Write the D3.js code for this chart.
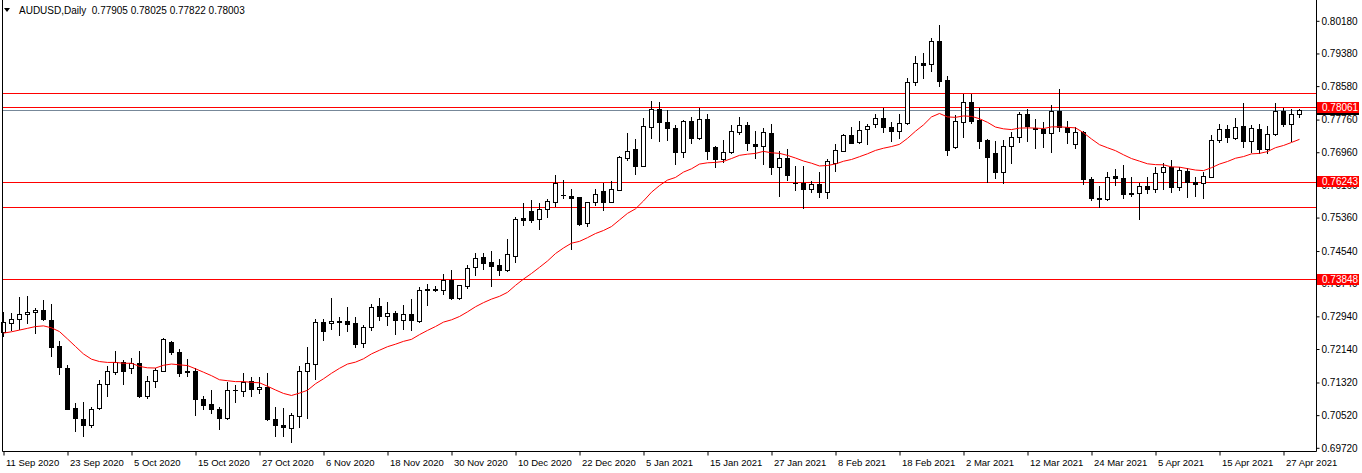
<!DOCTYPE html>
<html>
<head>
<meta charset="utf-8">
<script src="https://cdn.jsdelivr.net/npm/d3@7"></script>
<style>
  body { margin: 0; background: #fff; }
  svg { display: block; font-family: "Liberation Sans", Arial, sans-serif; }
</style>
</head>
<body>
<svg id="chart" width="1362" height="473"></svg>
<script>
// AUDUSD daily candles, 11 Sep 2020 .. 29 Apr 2021
const open = [
  0.7255, 0.7277, 0.7287, 0.7299, 0.7304, 0.7310, 0.7285, 0.7222, 0.7167, 0.7069,
  0.7042, 0.7027, 0.7069, 0.7128, 0.7157, 0.7183, 0.7167, 0.7179, 0.7098, 0.7135,
  0.7161, 0.7231, 0.7206, 0.7161, 0.7161, 0.7092, 0.7080, 0.7068, 0.7045, 0.7114,
  0.7112, 0.7136, 0.7116, 0.7122, 0.7043, 0.7028, 0.7020, 0.7051, 0.7159, 0.7177,
  0.7280, 0.7277, 0.7281, 0.7283, 0.7277, 0.7228, 0.7268, 0.7320, 0.7296, 0.7303,
  0.7284, 0.7299, 0.7283, 0.7361, 0.7362, 0.7359, 0.7383, 0.7339, 0.7369, 0.7416,
  0.7440, 0.7427, 0.7420, 0.7408, 0.7443, 0.7535, 0.7552, 0.7532, 0.7556, 0.7575,
  0.7592, 0.7589, 0.7586, 0.7522, 0.7574, 0.7601, 0.7575, 0.7604, 0.7683, 0.7704,
  0.7663, 0.7759, 0.7802, 0.7769, 0.7755, 0.7696, 0.7772, 0.7732, 0.7777, 0.7708,
  0.7680, 0.7696, 0.7746, 0.7763, 0.7716, 0.7712, 0.7744, 0.7661, 0.7681, 0.7620,
  0.7621, 0.7605, 0.7618, 0.7598, 0.7669, 0.7699, 0.7738, 0.7720, 0.7752, 0.7764,
  0.7779, 0.7757, 0.7749, 0.7767, 0.7869, 0.7914, 0.7912, 0.7968, 0.7873, 0.7708,
  0.7771, 0.7818, 0.7775, 0.7726, 0.7693, 0.7648, 0.7712, 0.7734, 0.7790, 0.7756,
  0.7753, 0.7742, 0.7797, 0.7757, 0.7716, 0.7746, 0.7630, 0.7585, 0.7581, 0.7638,
  0.7632, 0.7595, 0.7595, 0.7614, 0.7605, 0.7647, 0.7661, 0.7612, 0.7651, 0.7622,
  0.7620, 0.7636, 0.7726, 0.7752, 0.7730, 0.7760, 0.7724, 0.7753, 0.7704, 0.7740,
  0.7798, 0.7764, 0.77905
];
const high = [
  0.7304, 0.7302, 0.7341, 0.7344, 0.7314, 0.7334, 0.7325, 0.7234, 0.7175, 0.7081,
  0.7085, 0.7073, 0.7137, 0.7173, 0.7208, 0.7187, 0.7192, 0.7208, 0.7149, 0.7167,
  0.7241, 0.7234, 0.7214, 0.7189, 0.7167, 0.7098, 0.7114, 0.7071, 0.7134, 0.7125,
  0.7156, 0.7145, 0.7145, 0.7156, 0.7073, 0.7069, 0.7057, 0.7173, 0.7220, 0.7287,
  0.7287, 0.7340, 0.7293, 0.7318, 0.7293, 0.7273, 0.7325, 0.7340, 0.7330, 0.7307,
  0.7322, 0.7337, 0.7365, 0.7374, 0.7369, 0.7397, 0.7408, 0.7372, 0.7420, 0.7449,
  0.7449, 0.7454, 0.7434, 0.7484, 0.7538, 0.7571, 0.7579, 0.7571, 0.7581, 0.7640,
  0.7628, 0.7606, 0.7587, 0.7575, 0.7606, 0.7621, 0.7626, 0.7687, 0.7744, 0.7728,
  0.7779, 0.7822, 0.7820, 0.7799, 0.7763, 0.7775, 0.7783, 0.7805, 0.7790, 0.7712,
  0.7726, 0.7763, 0.7782, 0.7769, 0.7748, 0.7755, 0.7765, 0.7699, 0.7703, 0.7662,
  0.7662, 0.7626, 0.7647, 0.7680, 0.7716, 0.7741, 0.7759, 0.7773, 0.7765, 0.7790,
  0.7804, 0.7771, 0.7790, 0.7879, 0.7932, 0.7938, 0.7975, 0.8008, 0.7883, 0.7787,
  0.7839, 0.7839, 0.7804, 0.7728, 0.7724, 0.7726, 0.7745, 0.7795, 0.7801, 0.7777,
  0.7769, 0.7812, 0.7850, 0.7773, 0.7759, 0.7748, 0.7635, 0.7613, 0.7647, 0.7655,
  0.7665, 0.7636, 0.7620, 0.7636, 0.7659, 0.7669, 0.7677, 0.7661, 0.7657, 0.7636,
  0.7648, 0.7738, 0.7764, 0.7763, 0.7781, 0.7817, 0.7763, 0.7764, 0.7761, 0.7816,
  0.7804, 0.7801, 0.78025
];
const low = [
  0.7246, 0.7261, 0.7263, 0.7277, 0.7253, 0.7285, 0.7196, 0.7152, 0.7067, 0.7012,
  0.7002, 0.7023, 0.7067, 0.7098, 0.7152, 0.7128, 0.7155, 0.7096, 0.7094, 0.7121,
  0.7159, 0.7202, 0.7147, 0.7148, 0.7053, 0.7068, 0.7057, 0.7018, 0.7043, 0.7083,
  0.7098, 0.7100, 0.7107, 0.7041, 0.7000, 0.7000, 0.6987, 0.7024, 0.7045, 0.7141,
  0.7236, 0.7263, 0.7249, 0.7257, 0.7220, 0.7220, 0.7261, 0.7285, 0.7273, 0.7251,
  0.7263, 0.7261, 0.7281, 0.7322, 0.7355, 0.7349, 0.7337, 0.7337, 0.7364, 0.7396,
  0.7410, 0.7369, 0.7396, 0.7405, 0.7426, 0.7518, 0.7524, 0.7507, 0.7538, 0.7565,
  0.7583, 0.7459, 0.7518, 0.7516, 0.7567, 0.7555, 0.7574, 0.7603, 0.7677, 0.7642,
  0.7662, 0.7732, 0.7724, 0.7727, 0.7667, 0.7685, 0.7719, 0.7728, 0.7680, 0.7659,
  0.7673, 0.7693, 0.7741, 0.7702, 0.7683, 0.7667, 0.7642, 0.7590, 0.7628, 0.7604,
  0.7560, 0.7599, 0.7587, 0.7583, 0.7650, 0.7698, 0.7718, 0.7718, 0.7716, 0.7759,
  0.7746, 0.7724, 0.7730, 0.7766, 0.7861, 0.7879, 0.7895, 0.7858, 0.7689, 0.7706,
  0.7734, 0.7767, 0.7707, 0.7624, 0.7634, 0.7620, 0.7669, 0.7722, 0.7724, 0.7706,
  0.7710, 0.7697, 0.7749, 0.7718, 0.7706, 0.7618, 0.7579, 0.7561, 0.7579, 0.7616,
  0.7583, 0.7589, 0.7532, 0.7596, 0.7599, 0.7605, 0.7599, 0.7604, 0.7587, 0.7589,
  0.7585, 0.7635, 0.7722, 0.7722, 0.7728, 0.7708, 0.7697, 0.7693, 0.7695, 0.7738,
  0.7760, 0.7724, 0.77822
];
const close = [
  0.7281, 0.7287, 0.7300, 0.7305, 0.7310, 0.7287, 0.7220, 0.7169, 0.7068, 0.7045,
  0.7027, 0.7068, 0.7128, 0.7161, 0.7182, 0.7159, 0.7179, 0.7098, 0.7135, 0.7163,
  0.7238, 0.7206, 0.7156, 0.7157, 0.7091, 0.7077, 0.7068, 0.7044, 0.7114, 0.7113,
  0.7134, 0.7116, 0.7121, 0.7042, 0.7027, 0.7024, 0.7053, 0.7161, 0.7179, 0.7280,
  0.7257, 0.7283, 0.7282, 0.7276, 0.7227, 0.7268, 0.7316, 0.7296, 0.7302, 0.7284,
  0.7299, 0.7284, 0.7359, 0.7358, 0.7359, 0.7383, 0.7339, 0.7371, 0.7413, 0.7436,
  0.7424, 0.7418, 0.7408, 0.7446, 0.7532, 0.7531, 0.7530, 0.7557, 0.7577, 0.7621,
  0.7591, 0.7585, 0.7520, 0.7573, 0.7593, 0.7575, 0.7606, 0.7684, 0.7699, 0.7663,
  0.7760, 0.7802, 0.7769, 0.7755, 0.7696, 0.7772, 0.7732, 0.7777, 0.7700, 0.7680,
  0.7696, 0.7748, 0.7763, 0.7718, 0.7712, 0.7745, 0.7661, 0.7681, 0.7640, 0.7621,
  0.7605, 0.7618, 0.7598, 0.7675, 0.7702, 0.7738, 0.7719, 0.7750, 0.7760, 0.7779,
  0.7757, 0.7749, 0.7767, 0.7869, 0.7914, 0.7910, 0.7968, 0.7871, 0.7702, 0.7772,
  0.7818, 0.7773, 0.7724, 0.7685, 0.7648, 0.7712, 0.7734, 0.7790, 0.7760, 0.7752,
  0.7742, 0.7797, 0.7759, 0.7745, 0.7745, 0.7630, 0.7583, 0.7582, 0.7635, 0.7632,
  0.7594, 0.7593, 0.7614, 0.7606, 0.7646, 0.7661, 0.7612, 0.7653, 0.7622, 0.7619,
  0.7638, 0.7726, 0.7752, 0.7733, 0.7757, 0.7724, 0.7755, 0.7704, 0.7740, 0.7798,
  0.7764, 0.7790, 0.78003
];

// date labels sit under every 8th bar
const dateLabels = [
  '11 Sep 2020', '23 Sep 2020', '5 Oct 2020', '15 Oct 2020', '27 Oct 2020', '6 Nov 2020',
  '18 Nov 2020', '30 Nov 2020', '10 Dec 2020', '22 Dec 2020', '5 Jan 2021', '15 Jan 2021',
  '27 Jan 2021', '8 Feb 2021', '18 Feb 2021', '2 Mar 2021', '12 Mar 2021', '24 Mar 2021',
  '5 Apr 2021', '15 Apr 2021', '27 Apr 2021'
];
const priceTicks = [
  0.80180, 0.79380, 0.78580, 0.77760, 0.76960, 0.76160, 0.75360,
  0.74540, 0.73740, 0.72940, 0.72140, 0.71320, 0.70520, 0.69720
];
const levelLines = [0.78403, 0.78061, 0.76243, 0.75612, 0.73848];
const labelledLevels = [0.78061, 0.76243, 0.73848];
const bidPrice = 0.78003;
const maPeriod = 20;
const maStart = 0.7253; // MA value at the first visible bar

const W = 1362, H = 473;
const plotLeft = 2, plotRight = 1316, plotBottom = 451;
const fmt = d3.format('.5f');

const svg = d3.select('#chart');

const x = d3.scaleLinear().domain([0, open.length - 1]).range([3.5, 3.5 + 8 * (open.length - 1)]);
const y = d3.scaleLinear().domain([0.69720, 0.80180]).range([447.8, 20.8]);
const py = v => Math.round(y(v)) + 0.5;

// horizontal levels
svg.append('g')
  .selectAll('line')
  .data(levelLines)
  .enter()
  .append('line')
  .attr('x1', plotLeft)
  .attr('x2', plotRight)
  .attr('y1', d => py(d))
  .attr('y2', d => py(d))
  .style('stroke', '#ff0000')
  .style('stroke-width', 1);

svg.append('line')
  .attr('x1', plotLeft)
  .attr('x2', plotRight)
  .attr('y1', py(bidPrice))
  .attr('y2', py(bidPrice))
  .style('stroke', '#778899')
  .style('stroke-width', 1);

// candles
const bars = d3.range(open.length);
const candles = svg.append('g');

candles
  .selectAll('line.wick')
  .data(bars)
  .enter()
  .append('line')
  .attr('class', 'wick')
  .attr('x1', i => x(i))
  .attr('x2', i => x(i))
  .attr('y1', i => Math.round(y(high[i])))
  .attr('y2', i => Math.round(y(low[i])) + 1)
  .style('stroke', '#000')
  .style('stroke-width', 1);

candles
  .selectAll('rect.body')
  .data(bars.filter(i => Math.round(y(Math.min(open[i], close[i]))) - Math.round(y(Math.max(open[i], close[i]))) >= 1))
  .enter()
  .append('rect')
  .attr('class', 'body')
  .attr('x', i => x(i) - 2)
  .attr('y', i => Math.round(y(Math.max(open[i], close[i]))) + 0.5)
  .attr('width', 4)
  .attr('height', i => Math.round(y(Math.min(open[i], close[i]))) - Math.round(y(Math.max(open[i], close[i]))))
  .style('fill', i => (close[i] >= open[i] ? '#fff' : '#000'))
  .style('stroke', '#000')
  .style('stroke-width', 1);

candles
  .selectAll('line.doji')
  .data(bars.filter(i => Math.round(y(Math.min(open[i], close[i]))) - Math.round(y(Math.max(open[i], close[i]))) < 1))
  .enter()
  .append('line')
  .attr('class', 'doji')
  .attr('x1', i => x(i) - 2.5)
  .attr('x2', i => x(i) + 2.5)
  .attr('y1', i => py(close[i]))
  .attr('y2', i => py(close[i]))
  .style('stroke', '#000')
  .style('stroke-width', 1);

// exponential moving average of the closes
const k = 2 / (maPeriod + 1);
const ma = [];
close.forEach((c, i) => ma.push(i === 0 ? maStart : ma[i - 1] + k * (c - ma[i - 1])));

svg.append('path')
  .datum(ma)
  .attr('d', d3.line().x((d, i) => x(i)).y(d => y(d)))
  .style('fill', 'none')
  .style('stroke', '#ff0000')
  .style('stroke-width', 1);

// frame
svg.append('path')
  .attr('d', `M${plotLeft + 0.5},0V${plotBottom + 0.5}H${plotRight + 0.5}V0`)
  .style('fill', 'none')
  .style('stroke', '#000')
  .style('stroke-width', 1);

// price axis
const yAxis = d3.axisRight(y)
  .tickValues(priceTicks)
  .tickSize(3)
  .tickSizeOuter(0)
  .tickFormat(fmt);

const yAxisG = svg.append('g')
  .attr('transform', `translate(${plotRight + 0.5},0)`)
  .call(yAxis);
yAxisG.select('.domain').remove();
yAxisG.selectAll('.tick line').attr('stroke', '#000');
yAxisG.selectAll('.tick text')
  .attr('x', 5)
  .style('font-family', '"Liberation Sans", Arial, sans-serif')
  .style('font-size', '10px')
  .style('fill', '#000');

// date axis
const xAxis = d3.axisBottom(x)
  .tickValues(dateLabels.map((d, i) => i * 8))
  .tickSize(4)
  .tickSizeOuter(0)
  .tickFormat((d, i) => dateLabels[i]);

const xAxisG = svg.append('g')
  .attr('transform', `translate(0,${plotBottom + 0.5})`)
  .call(xAxis);
xAxisG.select('.domain').remove();
xAxisG.selectAll('.tick line').attr('stroke', '#000');
xAxisG.selectAll('.tick text')
  .attr('text-anchor', 'start')
  .attr('x', 2)
  .attr('y', 8)
  .style('font-family', '"Liberation Sans", Arial, sans-serif')
  .style('font-size', '9.5px')
  .style('fill', '#000');

// price tags on the axis
function priceTag(value, fill) {
  const cy = y(value);
  const g = svg.append('g');
  g.append('rect')
    .attr('x', plotRight + 1)
    .attr('y', Math.round(cy - 5.5))
    .attr('width', 42)
    .attr('height', 11)
    .style('fill', fill);
  g.append('text')
    .attr('x', plotRight + 6)
    .attr('y', cy)
    .attr('dy', '0.34em')
    .text(fmt(value))
    .style('font-size', '10px')
    .style('fill', '#fff');
}
priceTag(bidPrice, '#000');
labelledLevels.forEach(v => priceTag(v, '#ff0000'));

// header
const last = open.length - 1;
svg.append('path')
  .attr('d', 'M4,8H10L7,12Z')
  .style('fill', '#000');
svg.append('text')
  .attr('x', 19)
  .attr('y', 14)
  .style('font-size', '10px')
  .style('white-space', 'pre')
  .style('fill', '#000')
  .text(`AUDUSD,Daily  ${fmt(open[last])} ${fmt(high[last])} ${fmt(low[last])} ${fmt(close[last])}`);
</script>
</body>
</html>
